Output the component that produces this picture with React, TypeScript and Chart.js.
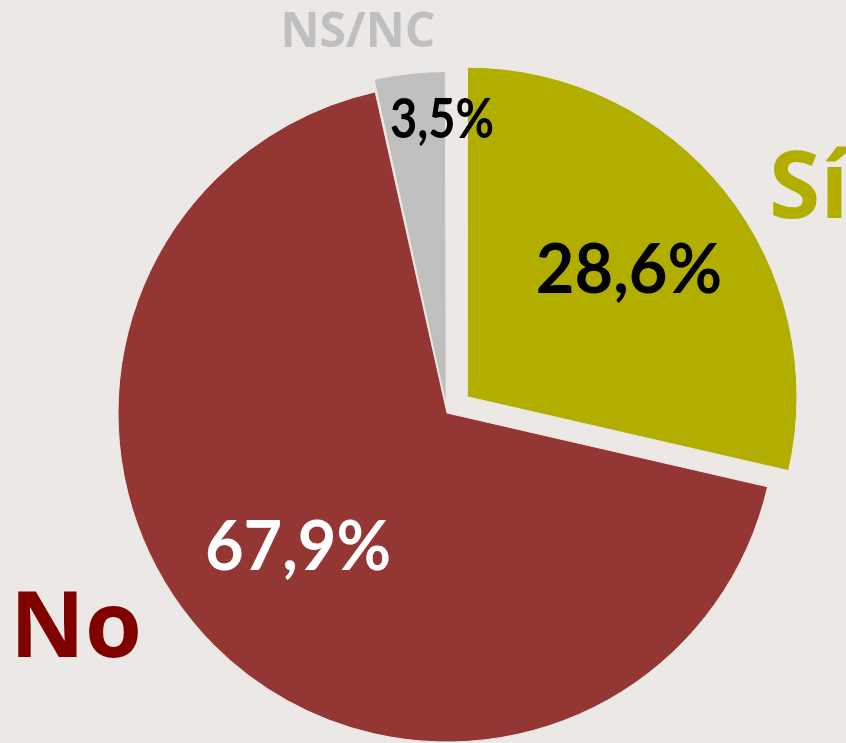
import React, { useEffect, useRef } from "react";
import { Chart, registerables } from "chart.js";

Chart.register(...registerables);

// ---- data ----
const categories = ["Sí", "No", "NS/NC"];
const values = [28.6, 67.9, 3.5];
const valueLabels = ["28,6%", "67,9%", "3,5%"];
const sliceColors = ["#B2AE00", "#943634", "#BFBFBF"];
const categoryColors = ["#B2AE00", "#800000", "#BFBFBF"];
const valueLabelColors = ["#000000", "#FFFFFF", "#000000"];
const sliceOffsets = [104, 0, 28];

const BG = "#EBE8E5";

const labelPlugin = {
  id: "pieLabels",
  afterDatasetsDraw(chart: any) {
    const meta = chart.getDatasetMeta(0);
    const arc0 = meta.data[0];
    const { x: cx, y: cy, outerRadius: r } = arc0.getProps(["x", "y", "outerRadius"], true);
    const ctx = chart.ctx as CanvasRenderingContext2D;
    ctx.save();
    ctx.textBaseline = "alphabetic";

    // value labels (relative to pie centre, in radius units)
    const valuePos = [
      [0.553, -0.365],
      [-0.453, 0.477],
      [-0.015, -0.836],
    ];
    const valueFont = [68, 68, 56];
    const valueScaleX = [0.98, 0.98, 0.84];
    valueLabels.forEach((t, i) => {
      ctx.save();
      ctx.font = `bold ${valueFont[i]}px Lato`;
      ctx.fillStyle = valueLabelColors[i];
      ctx.textAlign = "center";
      ctx.translate(cx + valuePos[i][0] * r, cy + valuePos[i][1] * r);
      ctx.scale(valueScaleX[i], 1);
      ctx.fillText(t, 0, 0);
      ctx.restore();
    });

    // category labels
    const catPos = [
      [0.979, -0.593, "left", 93],
      [-1.328, 0.742, "left", 92],
      [-0.271, -1.112, "center", 48],
    ] as const;
    categories.forEach((t, i) => {
      const [fx, fy, align, size] = catPos[i];
      ctx.font = `bold ${size}px "Open Sans"`;
      ctx.fillStyle = categoryColors[i];
      ctx.textAlign = align as CanvasTextAlign;
      ctx.fillText(t, cx + fx * r, cy + fy * r);
    });
    ctx.restore();
  },
};

export default function App() {
  const ref = useRef<HTMLCanvasElement>(null);
  useEffect(() => {
    const chart = new Chart(ref.current!, {
      type: "pie",
      data: {
        labels: categories,
        datasets: [
          {
            data: values,
            backgroundColor: sliceColors,
            borderColor: BG,
            borderWidth: 1,
            hoverBorderWidth: 1,
            offset: sliceOffsets,
            hoverOffset: 0,
            clip: false,
          } as any,
        ],
      },
      options: {
        animation: false,
        responsive: false,
        maintainAspectRatio: false,
        radius: 329,
        rotation: 0,
        layout: { padding: { left: 48, right: 0, top: 83, bottom: 0 } },
        plugins: { legend: { display: false }, tooltip: { enabled: false } },
        events: [],
      } as any,
      plugins: [labelPlugin],
    });
    return () => chart.destroy();
  }, []);
  return (
    <div
      style={{
        position: "absolute",
        left: 0,
        top: 0,
        width: 846,
        height: 743,
        background: BG,
        overflow: "hidden",
      }}
    >
      <canvas ref={ref} width={846} height={743} style={{ display: "block" }} />
    </div>
  );
}
